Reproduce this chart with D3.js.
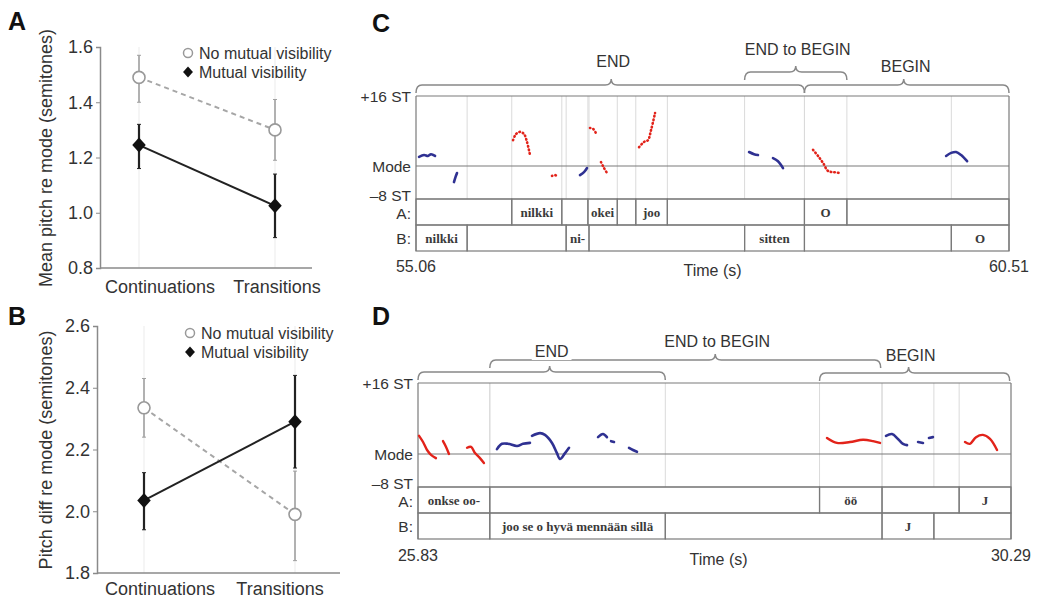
<!DOCTYPE html>
<html>
<head>
<meta charset="utf-8">
<script src="https://cdn.jsdelivr.net/npm/d3@7"></script>
<style>
body { margin: 0; background: #fff; }
text { font-family: "Liberation Sans", Arial, sans-serif; fill: #333; }
</style>
</head>
<body>
<script>
'use strict';

var width = 1037, height = 600;

// panels A and B
var conditions = ["Continuations", "Transitions"];
var legendLabels = ["No mutual visibility", "Mutual visibility"];

var pitchNoVis = [1.49, 1.30], pitchNoVisLo = [1.40, 1.19], pitchNoVisHi = [1.57, 1.41];
var pitchVis = [1.245, 1.025], pitchVisLo = [1.16, 0.91], pitchVisHi = [1.32, 1.14];
var pitchTicks = [0.8, 1.0, 1.2, 1.4, 1.6];

var diffNoVis = [2.335, 1.99], diffNoVisLo = [2.24, 1.84], diffNoVisHi = [2.43, 2.13];
var diffVis = [2.035, 2.29], diffVisLo = [1.94, 2.14], diffVisHi = [2.125, 2.44];
var diffTicks = [1.8, 2.0, 2.2, 2.4, 2.6];

// panel C (time in s, pitch in semitones re mode)
var cTime = [55.06, 60.51];
var cTierA = [[55.06, 55.94, ""], [55.94, 56.40, "nilkki"], [56.40, 56.64, ""], [56.64, 56.91, "okei"],
  [56.91, 57.08, ""], [57.08, 57.37, "joo"], [57.37, 58.63, ""], [58.63, 59.02, "O"], [59.02, 60.51, ""]];
var cTierB = [[55.06, 55.53, "nilkki"], [55.53, 56.44, ""], [56.44, 56.65, "ni-"], [56.65, 58.08, ""],
  [58.08, 58.63, "sitten"], [58.63, 59.98, ""], [59.98, 60.51, "O"]];
var cBlue = [
  [[55.088, 2.1], [55.134, 2.5], [55.170, 2.3], [55.198, 2.7], [55.235, 2.3]],
  [[55.409, -3.9], [55.423, -2.7], [55.437, -1.7]],
  [[56.567, -2.2], [56.604, -1.5], [56.632, -0.5]],
  [[58.121, 3.2], [58.167, 2.7], [58.203, 2.5]],
  [[58.341, 1.8], [58.387, 1.1], [58.433, -0.5]],
  [[59.932, 2.3], [59.978, 3.0], [60.024, 3.2], [60.070, 2.5], [60.125, 1.1]]
];
var cRed = [
  [[55.952, 5.9], [55.979, 7.3], [56.016, 7.8], [56.053, 7.3], [56.080, 5.5], [56.108, 2.5]],
  [[56.310, -2.4], [56.338, -2.2], [56.365, -2.7]],
  [[56.659, 8.7], [56.687, 8.5], [56.714, 7.5]],
  [[56.760, 0.9], [56.788, -0.5], [56.816, -1.7]],
  [[57.110, 4.3], [57.156, 5.5], [57.192, 5.9], [57.220, 8.2], [57.257, 12.1]],
  [[58.709, 3.7], [58.755, 2.3], [58.801, 0.7], [58.847, -1.2], [58.902, -1.5], [58.957, -1.7]]
];
var cBraces = [["END", 55.06, 58.63], ["END to BEGIN", 58.08, 59.02], ["BEGIN", 58.63, 60.51]];

// panel D
var dTime = [25.83, 30.29];
var dTierA = [[25.83, 26.37, "onkse oo-"], [26.37, 28.85, ""], [28.85, 29.32, "öö"], [29.32, 29.90, ""], [29.90, 30.29, "J"]];
var dTierB = [[25.83, 26.37, ""], [26.37, 27.69, "joo se o hyvä mennään sillä"], [27.69, 29.32, ""], [29.32, 29.71, "J"], [29.71, 30.29, ""]];
var dBlue = [
  [[26.424, 1.1], [26.462, 2.3], [26.507, 2.3], [26.575, 1.8], [26.620, 2.3], [26.672, 2.5]],
  [[26.687, 4.1], [26.748, 4.7], [26.785, 4.3], [26.838, 2.5], [26.875, 0.2], [26.898, -1.2], [26.936, 0.2], [26.966, 1.4]],
  [[27.184, 3.8], [27.221, 4.5], [27.251, 3.8]],
  [[27.282, 2.9], [27.304, 2.7]],
  [[27.417, 1.4], [27.447, 0.9], [27.477, 0.5]],
  [[29.350, 4.1], [29.395, 4.5], [29.440, 3.4], [29.478, 2.3], [29.508, 2.0]],
  [[29.591, 2.7], [29.628, 2.5]],
  [[29.673, 3.6], [29.703, 3.8]]
];
var dRed = [
  [[25.838, 4.1], [25.868, 2.7], [25.898, 0.9], [25.928, -0.2], [25.965, -1.0]],
  [[26.018, 2.9], [26.041, 1.6], [26.063, 0.0]],
  [[26.199, 1.4], [26.229, 1.6], [26.259, 0.2], [26.296, -1.0], [26.326, -2.2]],
  [[28.906, 3.6], [28.981, 2.5], [29.079, 2.7], [29.177, 3.2], [29.252, 2.9], [29.305, 2.5]],
  [[29.944, 2.7], [29.981, 2.3], [30.027, 3.8], [30.079, 4.3], [30.132, 3.4], [30.185, 0.9]]
];
var dBraces = [["END", 25.83, 27.69], ["END to BEGIN", 26.37, 29.31], ["BEGIN", 28.85, 30.28]];

var svg = d3.select("body").append("svg")
  .attr("width", width)
  .attr("height", height);

function panelLetter(t, x, y) {
  svg.append("text").attr("x", x).attr("y", y)
    .style("font-size", "25px").style("font-weight", "bold").style("fill", "#111")
    .text(t);
}

var diamond = function(r) { return "M0," + (-r) + "L" + (r * 0.9) + ",0L0," + r + "L" + (-r * 0.9) + ",0Z"; };

function statPanel(o) {
  var g = svg.append("g");
  var x = d3.scalePoint().domain(conditions).range(o.xr);
  var y = d3.scaleLinear().domain(o.dom).range(o.yr);

  g.selectAll(".cat").data(conditions).enter().append("line")
    .attr("x1", function(d) { return x(d); }).attr("x2", function(d) { return x(d); })
    .attr("y1", o.yr[0]).attr("y2", o.yr[1])
    .attr("stroke", "#ebebeb").attr("stroke-width", 1);

  var ya = g.append("g")
    .attr("transform", "translate(" + o.axisX + ",0)")
    .call(d3.axisLeft(y).tickValues(o.ticks).tickFormat(d3.format(".1f")).tickSize(4).tickPadding(3));
  ya.select(".domain").attr("stroke", "#8a8a8a").attr("stroke-width", 1.5);
  ya.selectAll(".tick line").attr("stroke", "#8a8a8a");
  ya.selectAll(".tick text").style("font-size", "18px").style("fill", "#333")
    .style("font-family", '"Liberation Sans", Arial, sans-serif');

  g.append("line").attr("x1", o.axisX).attr("x2", o.xEnd)
    .attr("y1", y(o.dom[0])).attr("y2", y(o.dom[0]))
    .attr("stroke", "#8a8a8a").attr("stroke-width", 1.5);

  g.selectAll(".xl").data(conditions).enter().append("text")
    .attr("x", function(d, i) { return o.labelX[i]; }).attr("y", o.labelY)
    .attr("text-anchor", "middle").style("font-size", "18px")
    .text(function(d) { return d; });

  g.append("text")
    .attr("transform", "translate(" + o.titleX + "," + o.titleY + ") rotate(-90)")
    .attr("text-anchor", "middle").style("font-size", "18px")
    .text(o.title);

  var line = d3.line().x(function(d, i) { return x(conditions[i]); }).y(function(d) { return y(d); });

  // no mutual visibility (grey, dashed)
  g.append("path").datum(o.noVis).attr("d", line)
    .attr("fill", "none").attr("stroke", "#a6a6a6").attr("stroke-width", 2).attr("stroke-dasharray", "5,4");
  // mutual visibility (black)
  g.append("path").datum(o.vis).attr("d", line)
    .attr("fill", "none").attr("stroke", "#222").attr("stroke-width", 2);

  function errBars(lo, hi, col, w) {
    var eb = g.selectAll(null).data(conditions).enter().append("g");
    eb.append("line")
      .attr("x1", function(d) { return x(d); }).attr("x2", function(d) { return x(d); })
      .attr("y1", function(d, i) { return y(lo[i]); }).attr("y2", function(d, i) { return y(hi[i]); })
      .attr("stroke", col).attr("stroke-width", w);
    [lo, hi].forEach(function(arr) {
      eb.append("line")
        .attr("x1", function(d) { return x(d) - 2; }).attr("x2", function(d) { return x(d) + 2; })
        .attr("y1", function(d, i) { return y(arr[i]); }).attr("y2", function(d, i) { return y(arr[i]); })
        .attr("stroke", col).attr("stroke-width", 1);
    });
  }
  errBars(o.noVisLo, o.noVisHi, "#a0a0a0", 1.6);
  errBars(o.visLo, o.visHi, "#222", 2.2);

  g.selectAll(".nv").data(o.noVis).enter().append("circle")
    .attr("cx", function(d, i) { return x(conditions[i]); })
    .attr("cy", function(d) { return y(d); })
    .attr("r", 6).attr("fill", "#fff").attr("stroke", "#999").attr("stroke-width", 1.6);
  g.selectAll(".mv").data(o.vis).enter().append("path")
    .attr("transform", function(d, i) { return "translate(" + x(conditions[i]) + "," + y(d) + ")"; })
    .attr("d", diamond(7.5)).attr("fill", "#111");

  // legend
  var lg = g.append("g").attr("transform", "translate(" + o.legX + "," + o.legY + ")");
  lg.append("circle").attr("cx", 0).attr("cy", 0).attr("r", 4.5)
    .attr("fill", "#fff").attr("stroke", "#999").attr("stroke-width", 1.5);
  lg.append("path").attr("transform", "translate(0,19)").attr("d", diamond(5.5)).attr("fill", "#111");
  lg.selectAll("text").data(legendLabels).enter().append("text")
    .attr("x", 11).attr("y", function(d, i) { return i * 19 + 5.5; })
    .style("font-size", "16px")
    .text(function(d) { return d; });
}

function bracePath(x1, x2, xm, y) {
  var r = 6, d = 8, tip = 6;
  return "M" + x1 + "," + (y + d) + "Q" + x1 + "," + y + " " + (x1 + r) + "," + y +
    "L" + (xm - r) + "," + y + "Q" + xm + "," + y + " " + xm + "," + (y - tip) +
    "Q" + xm + "," + y + " " + (xm + r) + "," + y +
    "L" + (x2 - r) + "," + y + "Q" + x2 + "," + y + " " + x2 + "," + (y + d);
}

function pitchPanel(o) {
  var g = svg.append("g");
  var x = d3.scaleLinear().domain(o.time).range([o.left, o.right]);
  var y = d3.scaleLinear().domain([-8, 0, 16]).range([o.yLow, o.yMode, o.yTop]);
  var rows = [[o.yLow, o.yLow + o.rowH], [o.yLow + o.rowH, o.yLow + 2 * o.rowH]];
  var grey = "#7a7a7a";

  // faint interval boundaries in pitch area
  var bounds = [];
  o.tiers.forEach(function(tier) {
    tier.forEach(function(c) { if (c[0] > o.time[0]) bounds.push(c[0]); });
  });
  g.selectAll(".bound").data(bounds).enter().append("line")
    .attr("x1", function(d) { return x(d); }).attr("x2", function(d) { return x(d); })
    .attr("y1", o.yTop).attr("y2", o.yLow)
    .attr("stroke", "#dadada").attr("stroke-width", 1);

  // tiers
  o.tiers.forEach(function(tier, ti) {
    var cell = g.selectAll(null).data(tier).enter().append("g");
    cell.append("rect")
      .attr("x", function(d) { return x(d[0]); })
      .attr("y", rows[ti][0])
      .attr("width", function(d) { return x(d[1]) - x(d[0]); })
      .attr("height", o.rowH)
      .attr("fill", "none").attr("stroke", grey).attr("stroke-width", 1.2);
    cell.append("text")
      .attr("x", function(d) { return (x(d[0]) + x(d[1])) / 2; })
      .attr("y", (rows[ti][0] + rows[ti][1]) / 2 + 4.5)
      .attr("text-anchor", "middle")
      .style("font-family", '"Liberation Serif", "Times New Roman", serif')
      .style("font-weight", "bold").style("font-size", "13px").style("fill", "#3a3a3a")
      .text(function(d) { return d[2]; });
  });

  // pitch frame
  g.selectAll(".hl").data([16, 0, -8]).enter().append("line")
    .attr("x1", o.left).attr("x2", o.right)
    .attr("y1", function(d) { return y(d); }).attr("y2", function(d) { return y(d); })
    .attr("stroke", grey).attr("stroke-width", 1.2);
  [o.left, o.right].forEach(function(xx) {
    g.append("line").attr("x1", xx).attr("x2", xx).attr("y1", o.yTop).attr("y2", rows[1][1])
      .attr("stroke", grey).attr("stroke-width", 1.2);
  });

  // row labels
  var rowLabels = [["+16 ST", y(16) + 6], ["Mode", y(0) + 6], ["\u20138 ST", y(-8) + 2],
    ["A:", (rows[0][0] + rows[0][1]) / 2 + 7], ["B:", (rows[1][0] + rows[1][1]) / 2 + 6]];
  g.selectAll(".rl").data(rowLabels).enter().append("text")
    .attr("x", o.left - 5).attr("y", function(d) { return d[1]; })
    .attr("text-anchor", "end").style("font-size", "15.5px")
    .text(function(d) { return d[0]; });

  // time labels
  var fmt = d3.format(".2f");
  g.append("text").attr("x", x(o.time[0])).attr("y", o.timeY).attr("text-anchor", "middle")
    .style("font-size", "16px").text(fmt(o.time[0]));
  g.append("text").attr("x", x(o.time[1])).attr("y", o.timeY).attr("text-anchor", "middle")
    .style("font-size", "16px").text(fmt(o.time[1]));
  g.append("text").attr("x", (o.left + o.right) / 2 + o.timeLabelDx).attr("y", o.timeY + 4)
    .attr("text-anchor", "middle").style("font-size", "16px").text("Time (s)");

  // contours
  var line = d3.line()
    .x(function(d) { return x(d[0]); })
    .y(function(d) { return y(d[1]); })
    .curve(d3.curveCatmullRom);
  g.selectAll(".blue").data(o.blue).enter().append("path")
    .attr("d", line).attr("fill", "none")
    .attr("stroke", "#2f3192").attr("stroke-width", 2.6).attr("stroke-linecap", "round");
  g.selectAll(".red").data(o.red).enter().append("path")
    .attr("d", line).attr("fill", "none")
    .attr("stroke", "#e2231a").attr("stroke-width", o.redDotted ? 2.6 : 2.4)
    .attr("stroke-linecap", "round")
    .attr("stroke-dasharray", o.redDotted ? "0.6,3" : null);

  // braces
  var bg = g.append("g");
  o.braces.forEach(function(b, i) {
    var x1 = x(b[1]), x2 = x(b[2]);
    var xm = (x1 + x2) / 2 + o.braceTip[i];
    bg.append("path").attr("d", bracePath(x1, x2, xm, o.braceY[i]))
      .attr("fill", "none").attr("stroke", "#888").attr("stroke-width", 1.5);
  });
  o.braces.forEach(function(b, i) {
    var x1 = x(b[1]), x2 = x(b[2]);
    var xm = (x1 + x2) / 2 + o.braceTip[i];
    var t = bg.append("text").attr("x", xm + 2).attr("y", o.braceTextY[i])
      .attr("text-anchor", "middle").style("font-size", "16px").text(b[0]);
    var bb = t.node().getBBox();
    bg.insert("rect", function() { return t.node(); })
      .attr("x", bb.x - 3).attr("y", bb.y).attr("width", bb.width + 6).attr("height", bb.height)
      .attr("fill", "#fff");
  });
}

statPanel({
  dom: [0.8, 1.6], yr: [268, 47], xr: [139, 275], axisX: 100, xEnd: 312, ticks: pitchTicks,
  labelX: [160, 277], labelY: 293, title: "Mean pitch re mode (semitones)", titleX: 52, titleY: 158,
  noVis: pitchNoVis, noVisLo: pitchNoVisLo, noVisHi: pitchNoVisHi,
  vis: pitchVis, visLo: pitchVisLo, visHi: pitchVisHi,
  legX: 188, legY: 53
});
statPanel({
  dom: [1.8, 2.6], yr: [573, 326], xr: [144, 295], axisX: 97, xEnd: 340, ticks: diffTicks,
  labelX: [160, 280], labelY: 595, title: "Pitch diff re mode (semitones)", titleX: 52, titleY: 450,
  noVis: diffNoVis, noVisLo: diffNoVisLo, noVisHi: diffNoVisHi,
  vis: diffVis, visLo: diffVisLo, visHi: diffVisHi,
  legX: 190, legY: 333
});

pitchPanel({
  time: cTime, left: 416, right: 1009, yTop: 96, yMode: 166, yLow: 199, rowH: 26,
  tiers: [cTierA, cTierB], blue: cBlue, red: cRed, redDotted: true,
  timeY: 272, timeLabelDx: 0,
  braces: cBraces, braceY: [85, 72, 85], braceTextY: [67, 55, 72], braceTip: [1, 0, -3]
});
pitchPanel({
  time: dTime, left: 418, right: 1011, yTop: 383, yMode: 454, yLow: 487, rowH: 26,
  tiers: [dTierA, dTierB], blue: dBlue, red: dRed, redDotted: false,
  timeY: 561, timeLabelDx: 4,
  braces: dBraces, braceY: [372, 360, 373], braceTextY: [357, 347, 361], braceTip: [8, 30, -6]
});

panelLetter("A", 8, 30);
panelLetter("B", 8, 325);
panelLetter("C", 372, 32);
panelLetter("D", 372, 325);
</script>
</body>
</html>
